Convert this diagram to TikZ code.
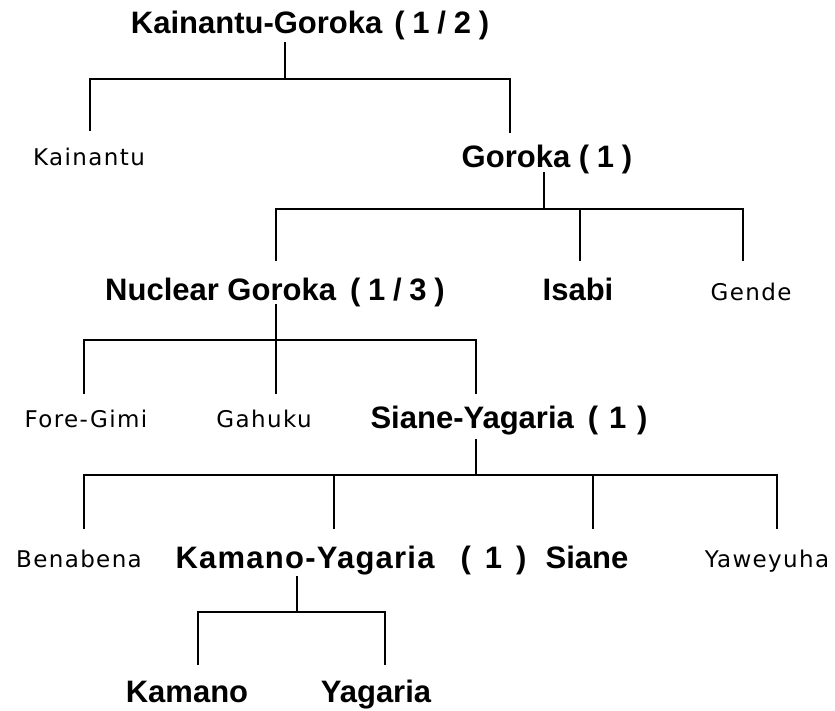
\documentclass[tikz,border=0pt]{standalone}
\usepackage{fontspec}
\setmainfont{Liberation Sans}
\newfontfamily\regfont[LetterSpace=6]{DejaVu Sans}
\newcommand\ppar[2][25]{{\addfontfeature{LetterSpace=#1}#2}}
\usetikzlibrary{calc}
\begin{document}
\begin{tikzpicture}[x=1pt,y=-1pt,
  big/.style={font=\fontsize{31}{31}\selectfont\bfseries, inner sep=0pt, anchor=base},
  small/.style={font=\fontsize{23}{23}\selectfont\regfont, inner sep=0pt, anchor=base},
  link/.style={line width=1.4pt, black}]
\useasboundingbox (0,0) rectangle (835,710);
\node[big] (root) at (310,33) {Kainantu-Goroka\hspace{12pt}\ppar{(1/2)}};
\node[small] (kain) at (89,165) {Kainantu};
\node[big] (gor) at (547,167) {Goroka \ppar{(1)}};
\node[big] (nuc) at (275,300) {Nuclear Goroka\hspace{14pt}\ppar{(1/3)}};
\node[big] (isabi) at (578,300) {Isabi};
\node[small] (gende) at (751,300) {Gende};
\node[small] (fore) at (86,427) {Fore-Gimi};
\node[small] (gahuku) at (264,427) {Gahuku};
\node[big] (sy) at (509,428) {Siane-Yagaria\hspace{14pt}\ppar[35]{(1)}};
\node[small] (bena) at (79,567) {Benabena};
\node[big] (ky) at (351,568) {\ppar[4]{Kamano-Yagaria}\hspace{26pt}\ppar[45]{(1)}};
\node[big] (siane) at (587,568) {Siane};
\node[small] (yaw) at (767,567) {Yaweyuha};
\node[big] (kam) at (187,702) {Kamano};
\node[big] (yag) at (376,702) {Yagaria};
% connectors
\draw[link] ([xshift=-25pt,yshift=-9pt]root.base) -- ++(0,37) coordinate (b1);
\draw[link] (b1) -| ([xshift=1pt,yshift=34pt]kain.base);
\draw[link] (b1) -| ([xshift=-37pt,yshift=34pt]gor.base);
\draw[link] ([xshift=-3pt,yshift=-5pt]gor.base) -- ++(0,37) coordinate (b2);
\draw[link] (b2) -| ([xshift=1pt,yshift=39pt]nuc.base);
\draw[link] (b2) -| ([xshift=2pt,yshift=39pt]isabi.base);
\draw[link] (b2) -| ([xshift=-8pt,yshift=39pt]gende.base);
\draw[link] ([xshift=1pt,yshift=-4pt]nuc.base) -- ++(0,36) coordinate (b3);
\draw[link] (b3) -| ([xshift=-2pt,yshift=33pt]fore.base);
\draw[link] (b3) -| ([xshift=12pt,yshift=33pt]gahuku.base);
\draw[link] (b3) -| ([xshift=-33pt,yshift=34pt]sy.base);
\draw[link] ([xshift=-33pt,yshift=-11pt]sy.base) -- ++(0,36) coordinate (b4);
\draw[link] (b4) -| ([xshift=5pt,yshift=38pt]bena.base);
\draw[link] (b4) -| ([xshift=-17pt,yshift=39pt]ky.base);
\draw[link] (b4) -| ([xshift=6pt,yshift=39pt]siane.base);
\draw[link] (b4) -| ([xshift=10pt,yshift=38pt]yaw.base);
\draw[link] ([xshift=-54pt,yshift=-8pt]ky.base) -- ++(0,36) coordinate (b5);
\draw[link] (b5) -| ([xshift=11pt,yshift=37pt]kam.base);
\draw[link] (b5) -| ([xshift=9pt,yshift=37pt]yag.base);
\end{tikzpicture}
\end{document}
